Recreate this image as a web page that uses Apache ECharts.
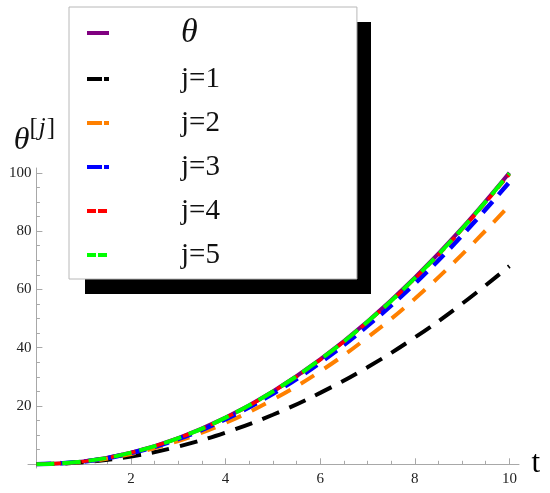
<!DOCTYPE html>
<html>
<head>
<meta charset="utf-8">
<script src="https://cdn.jsdelivr.net/npm/echarts@6/dist/echarts.min.js"></script>
<style>html,body{margin:0;padding:0;background:#fff}#c{width:550px;height:493px}</style>
</head>
<body>
<div id="c"></div>
<script>
// ---- data ----
var tValues  = [0, 1, 2, 3, 4, 5, 6, 7, 8, 9, 10];
var thetaExact = [0, 1, 4, 9, 16, 25, 36, 49, 64, 81, 100];
var thetaJ1 = [0, 0.68, 2.7, 6.1, 10.9, 17, 24.5, 33.3, 43.5, 55.1, 68];
var thetaJ2 = [0, 0.89, 3.56, 8.0, 14.2, 22.2, 31.9, 43.5, 56.8, 72, 88.8];
var thetaJ3 = [0, 0.97, 3.88, 8.7, 15.5, 24.2, 34.9, 47.5, 62, 78.5, 96.8];
var thetaJ4 = [0, 1, 4, 9, 15.95, 24.9, 35.85, 48.8, 63.7, 80.6, 99.5];
var thetaJ5 = [0, 1, 4, 9, 16, 25, 35.95, 48.9, 63.85, 80.8, 99.8];
var seriesNames = ['θ', 'j=1', 'j=2', 'j=3', 'j=4', 'j=5'];
var xTickLabels = [2, 4, 6, 8, 10];
var yTickLabels = [20, 40, 60, 80, 100];

var seriesValues = [thetaExact, thetaJ1, thetaJ2, thetaJ3, thetaJ4, thetaJ5];
var colors = ['#800080', '#000000', '#ff8000', '#0000ff', '#ff0000', '#00ff00'];
var dashes = ['solid', [18, 11], [16, 12], [15, 9], [10, 5], [18, 8]];
var legendDashes = ['solid', [15, 2], [15, 2], [15, 2], [9, 2], [9, 2]];
var widths = [4, 4, 4, 4.5, 3.5, 4];

var serif = "'Liberation Serif','Times New Roman',serif";

function pairs(vals) { return tValues.map(function (t, i) { return [t, vals[i]]; }); }

var chart = echarts.init(document.getElementById('c'), null, { renderer: 'canvas' });

var series = seriesValues.map(function (vals, i) {
  return {
    name: seriesNames[i],
    type: 'line',
    xAxisIndex: 1,
    yAxisIndex: 1,
    data: pairs(vals),
    smooth: 0.4,
    symbol: 'none',
    z: 3 + i,
    lineStyle: { color: colors[i], width: widths[i], type: dashes[i], cap: 'butt' },
    itemStyle: { color: colors[i] }
  };
});

var option = {
  animation: false,
  backgroundColor: '#fff',
  graphic: [
    { type: 'rect', z: 20, zlevel: 0, shape: { x: 85, y: 22, width: 286, height: 272 }, style: { fill: '#000' }, silent: true }
  ],
  grid: [
    { left: 28, right: 31, top: 168, bottom: 25 },
    { left: 36.4, right: 40.6, top: 172.8, bottom: 28.7 }
  ],
  xAxis: [
    {
      type: 'value', gridIndex: 0, min: -0.1776, max: 10.203,
      axisLine: { show: true, onZero: true, lineStyle: { color: '#a8a8a8', width: 1 } },
      axisTick: { show: false }, axisLabel: { show: false }, splitLine: { show: false }
    },
    {
      type: 'value', gridIndex: 1, min: 0, max: 10, interval: 2,
      name: 't', nameLocation: 'end', nameGap: 22,
      nameTextStyle: { fontFamily: serif, fontSize: 31, color: '#000', padding: [0, 0, 6, 0] },
      axisLine: { show: false },
      axisTick: { show: true, inside: true, length: 6, lineStyle: { color: '#a8a8a8' } },
      minorTick: { show: true, splitNumber: 4, length: 3.5, lineStyle: { color: '#a8a8a8' } },
      axisLabel: {
        show: true, showMinLabel: false, margin: 7, fontFamily: serif, fontSize: 15, color: '#222',
        formatter: function (v) { return xTickLabels.indexOf(v) >= 0 ? String(v) : ''; }
      },
      splitLine: { show: false }
    }
  ],
  yAxis: [
    {
      type: 'value', gridIndex: 0, min: -1.27, max: 101.72,
      axisLine: { show: true, onZero: true, lineStyle: { color: '#a8a8a8', width: 1 } },
      axisTick: { show: false }, axisLabel: { show: false }, splitLine: { show: false }
    },
    {
      type: 'value', gridIndex: 1, min: 0, max: 100, interval: 20,
      name: '{a|θ}{b|[}{c|j}{b|]}', nameLocation: 'end', nameGap: 16,
      nameTextStyle: {
        align: 'center',
        padding: [0, 4, 0, 0],
        rich: {
          a: { fontFamily: serif, fontSize: 32, fontStyle: 'italic', color: '#111', verticalAlign: 'bottom' },
          b: { fontFamily: serif, fontSize: 25, color: '#111', verticalAlign: 'bottom', padding: [0, 0, 16, 0] },
          c: { fontFamily: serif, fontSize: 25, fontStyle: 'italic', color: '#111', verticalAlign: 'bottom', padding: [0, 1, 16, 1] }
        }
      },
      axisLine: { show: false },
      axisTick: { show: true, inside: true, length: 6, lineStyle: { color: '#a8a8a8' } },
      minorTick: { show: true, splitNumber: 4, length: 3.5, lineStyle: { color: '#a8a8a8' } },
      axisLabel: {
        show: true, showMinLabel: false, margin: 5, fontFamily: serif, fontSize: 15, color: '#222',
        formatter: function (v) { return yTickLabels.indexOf(v) >= 0 ? String(v) : ''; }
      },
      splitLine: { show: false }
    }
  ],
  legend: {
    z: 30,
    orient: 'vertical',
    left: 69, top: 7,
    padding: [9, 137, 9, 16],
    itemWidth: 22, itemHeight: 14, itemGap: 14,
    backgroundColor: '#fff',
    borderColor: '#b8b8b8', borderWidth: 1,
    selectedMode: false,
    itemStyle: { color: 'rgba(0,0,0,0)', opacity: 0, borderWidth: 0 },
    data: seriesNames.map(function (n, i) {
      return { name: n,
        itemStyle: { color: 'rgba(0,0,0,0)', opacity: 0, borderWidth: 0 },
        lineStyle: { color: colors[i], width: 4, type: legendDashes[i] } };
    }),
    formatter: function (name) { return name === 'θ' ? '{th|θ}' : name; },
    textStyle: {
      fontFamily: serif, fontSize: 29, color: '#111', lineHeight: 30,
      padding: [0, 0, 0, 67],
      rich: { th: { fontFamily: serif, fontSize: 34, fontStyle: 'italic', color: '#111', lineHeight: 30 } }
    }
  },
  series: series
};
chart.setOption(option);
</script>
</body>
</html>
